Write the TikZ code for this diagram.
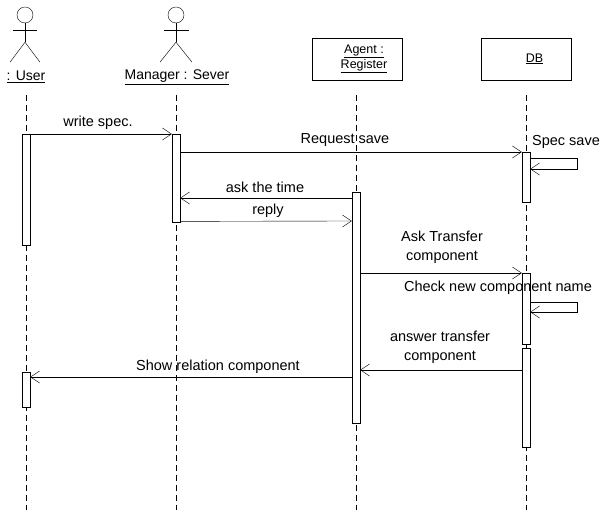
\documentclass[tikz,border=0pt]{standalone}
\usepackage{fontspec}
\setmainfont{Liberation Sans}
\usetikzlibrary{arrows.meta,positioning}
\tikzset{
    head/.style={
           circle,
           draw=black, thin,
           minimum size=16pt,
           inner sep=0pt
           },
    objbox/.style={
           rectangle,
           draw=black, thin,
           minimum width=90pt,
           minimum height=42pt,
           align=center,
           font=\fontsize{12.5}{15}\selectfont
           },
    actbar/.style={
           rectangle,
           draw=black, thin,
           fill=white,
           minimum width=8pt,
           inner sep=0pt,
           anchor=north
           },
    lifeline/.style={
           line width=0.9pt,
           dash pattern=on 6pt off 4pt
           },
    msg/.style={
           thin,
           -{Straight Barb[length=9pt,width=12pt]}
           },
    lbl/.style={
           align=center,
           inner sep=1pt,
           font=\fontsize{14.5}{19}\selectfont
           },
    actlbl/.style={
           inner sep=1pt,
           font=\fontsize{14}{16}\selectfont
           }
}

\begin{document}
\begin{tikzpicture}[x=1pt, y=1pt]
   \useasboundingbox (0,0) rectangle (602,510);

   % actors
   \node[head] (uhead) at (25,495) {};
   \draw (uhead.south) -- ++(0,-19) coordinate (uhip);
   \draw (13,480) -- (37,480);
   \draw (uhip) -- ++(-15,-20) (uhip) -- ++(15,-20);
   \node[actlbl] (user) at (26,433) {\underline{: User}};

   \node[head] (mhead) at (176,495) {};
   \draw (mhead.south) -- ++(0,-19) coordinate (mhip);
   \draw (164,480) -- (189,480);
   \draw (mhip) -- ++(-16,-20) (mhip) -- ++(16,-20);
   \node[actlbl] (manager) at (177,433) {\underline{Manager : Sever}};

   % objects
   \node[objbox] (agent) at (357,451) {\hspace*{14pt}\underline{Agent :}\\\hspace*{14pt}\underline{Register}};
   \node[objbox] (db) at (526.5,451) {\hspace*{16pt}\underline{DB}};

   % lifelines
   \coordinate (uend) at (26,0);
   \coordinate (mend) at (176,0);
   \coordinate (aend) at (356,0);
   \coordinate (dend) at (526,0);
   \draw[lifeline] (26,415) -- (uend);
   \draw[lifeline] (176,415) -- (mend);
   \draw[lifeline] (356,415) -- (aend);
   \draw[lifeline] (526,415) -- (dend);

   % activations
   \node[actbar, minimum height=111pt] (u1) at (26,376) {};
   \node[actbar, minimum height=35pt] (u2) at (26,138) {};
   \node[actbar, minimum height=88pt] (m1) at (176,376) {};
   \node[actbar, minimum height=231pt] (a1) at (356,318) {};
   \node[actbar, minimum height=50pt] (d1) at (526,358) {};
   \node[actbar, minimum height=71pt] (d2) at (526,237) {};
   \node[actbar, minimum height=99pt] (d3) at (526,162) {};

   % messages
   \draw[msg] (u1.north east) -- (m1.north west);
   \node[lbl] (m_write) at (98,387) {write spec.};

   \draw[msg] ([yshift=-18pt]m1.north east) -- (d1.north west);
   \node[lbl] (m_req) at (345,370) {Request save};

   \draw[msg] ([yshift=-6pt]d1.north east) -- ++(47,0) -- ++(0,-11) -- ([yshift=-17pt]d1.north east);
   \node[lbl] (m_spec) at (566,368) {Spec save};

   \draw[msg] ([yshift=-6pt]a1.north west) -- ([yshift=-64pt]m1.north east);
   \node[lbl] (m_ask) at (265,323) {ask the time};

   \draw[msg] ([yshift=1pt]m1.south east) -- ([yshift=-29pt]a1.north west);
   \node[lbl] (m_reply) at (268,299) {reply};

   \draw[msg] ([yshift=-81pt]a1.north east) -- (d2.north west);
   \node[lbl] (m_trans) at (442,263) {Ask Transfer\\component};

   \draw[msg] ([yshift=-29pt]d2.north east) -- ++(47,0) -- ++(0,-10) -- ([yshift=-39pt]d2.north east);
   \node[lbl] (m_check) at (498,222) {Check new component name};

   \draw[msg] ([yshift=-22pt]d3.north west) -- ([yshift=-178pt]a1.north east);
   \node[lbl] (m_answer) at (440,163) {answer transfer\\component};

   \draw[msg] ([yshift=-185pt]a1.north west) -- ([yshift=-5pt]u2.north east);
   \node[lbl] (m_show) at (218,143) {Show relation component};
\end{tikzpicture}
\end{document}
